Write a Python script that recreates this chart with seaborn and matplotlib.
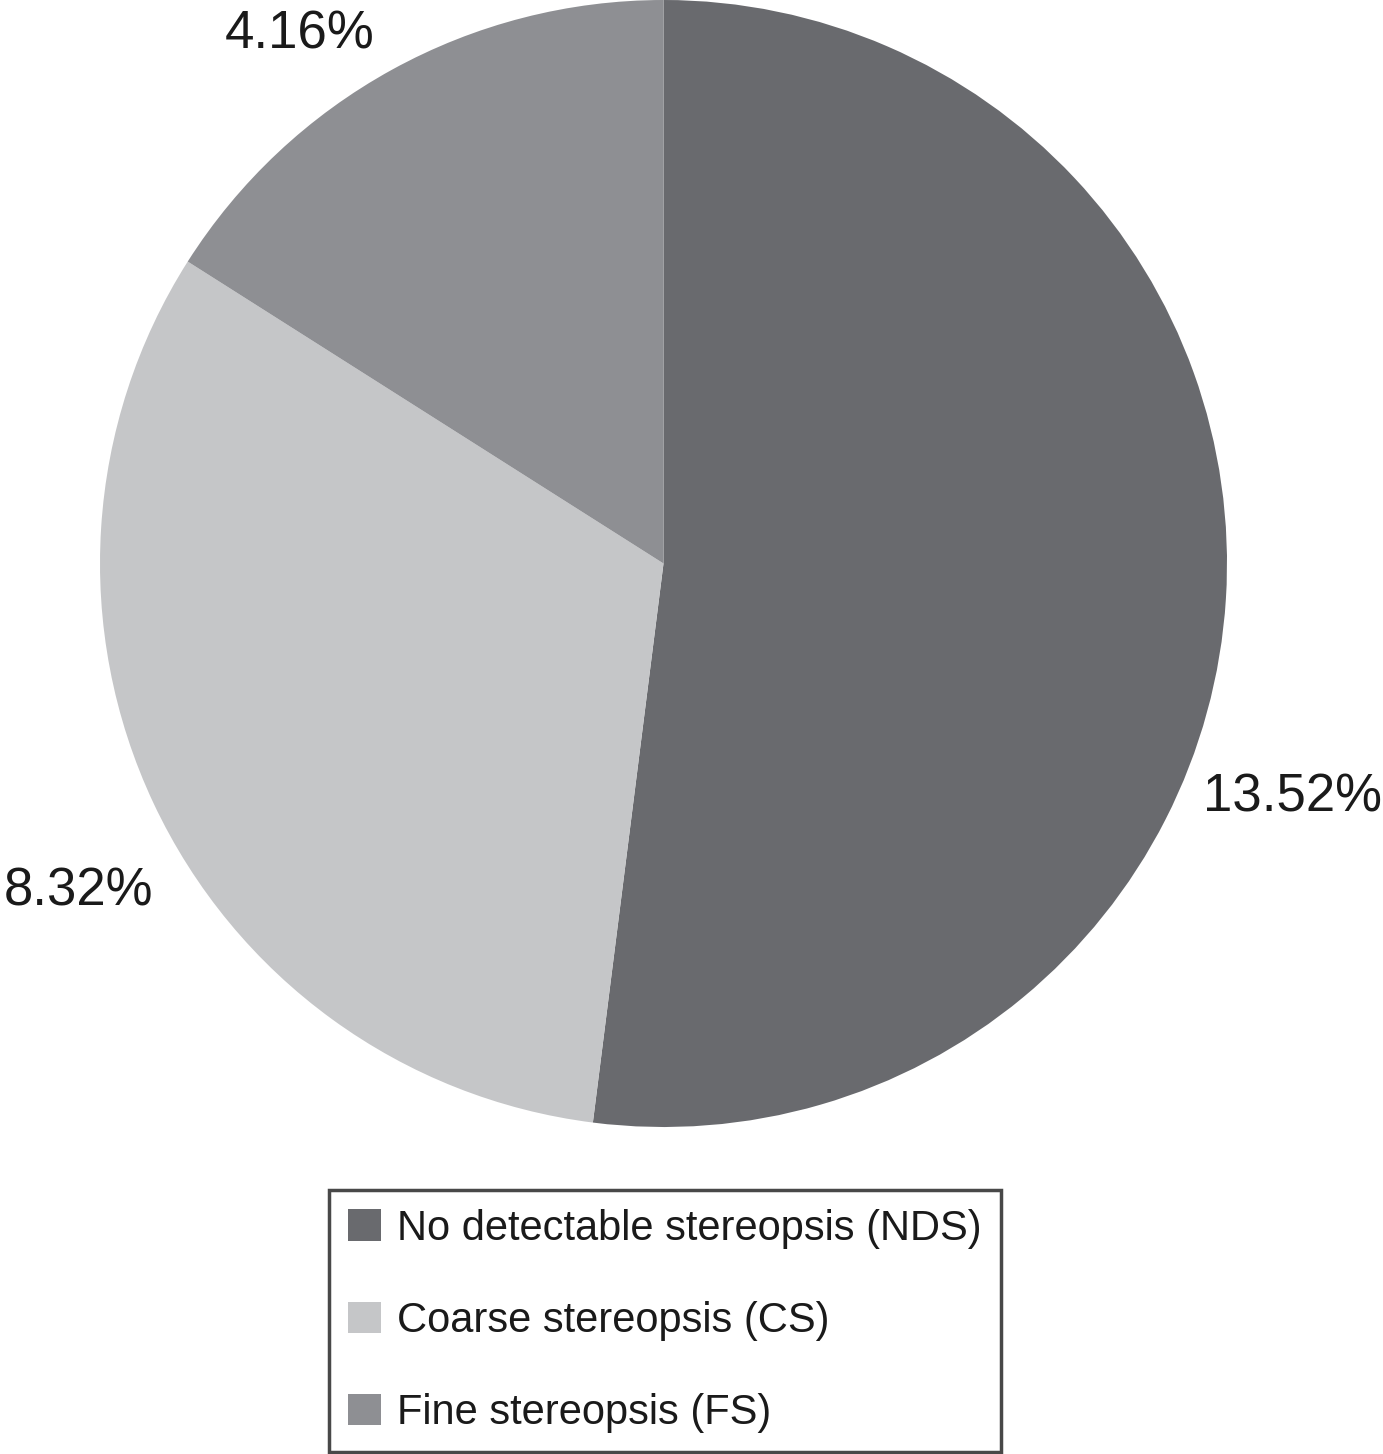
import numpy as np
import matplotlib
matplotlib.use("Agg")
import matplotlib.pyplot as plt
import seaborn as sns

# Stereopsis categories and their shares
categories = ["No detectable stereopsis (NDS)", "Coarse stereopsis (CS)", "Fine stereopsis (FS)"]
values = [13.52, 8.32, 4.16]
value_labels = ["13.52%", "8.32%", "4.16%"]
colors = ["#696a6e", "#c5c6c8", "#8e8f93"]

# Label placement around the pie: (angle in degrees, radius as fraction of pie radius)
label_pos = [(-20.4, 1.19), (-150.7, 1.19), (124.5, 1.14)]

sns.set_theme(style="white")
plt.rcParams["font.family"] = ["Liberation Sans", "DejaVu Sans"]

W, H = 1383, 1454
fig = plt.figure(figsize=(W / 100, H / 100), dpi=100)
ax = fig.add_axes([100 / W, (H - 1127) / H, 1127 / W, 1127 / H])

wedges, _ = ax.pie(
    values,
    colors=colors,
    startangle=90,
    counterclock=False,
    radius=1.0,
    wedgeprops=dict(linewidth=0),
)
ax.set_xlim(-1, 1)
ax.set_ylim(-1, 1)
ax.set_aspect("equal")
ax.axis("off")

for text, (ang, r) in zip(value_labels, label_pos):
    t = np.deg2rad(ang)
    ax.text(r * np.cos(t), r * np.sin(t), text, ha="center", va="center",
            fontsize=38, color="#1a1a1a", clip_on=False)

leg = fig.legend(
    wedges, categories,
    loc="upper center",
    bbox_to_anchor=(665 / W, 1 - 1190 / H),
    borderaxespad=0,
    frameon=True,
    fancybox=False,
    fontsize=30,
    handlelength=0.79,
    handleheight=0.79,
    handletextpad=0.4,
    labelspacing=1.25,
    borderpad=0.45,
)
frame = leg.get_frame()
frame.set_edgecolor("#1a1a1a")
frame.set_linewidth(2.5)
for txt in leg.get_texts():
    txt.set_color("#1a1a1a")

fig.savefig("out.png", dpi=100, facecolor="white")
